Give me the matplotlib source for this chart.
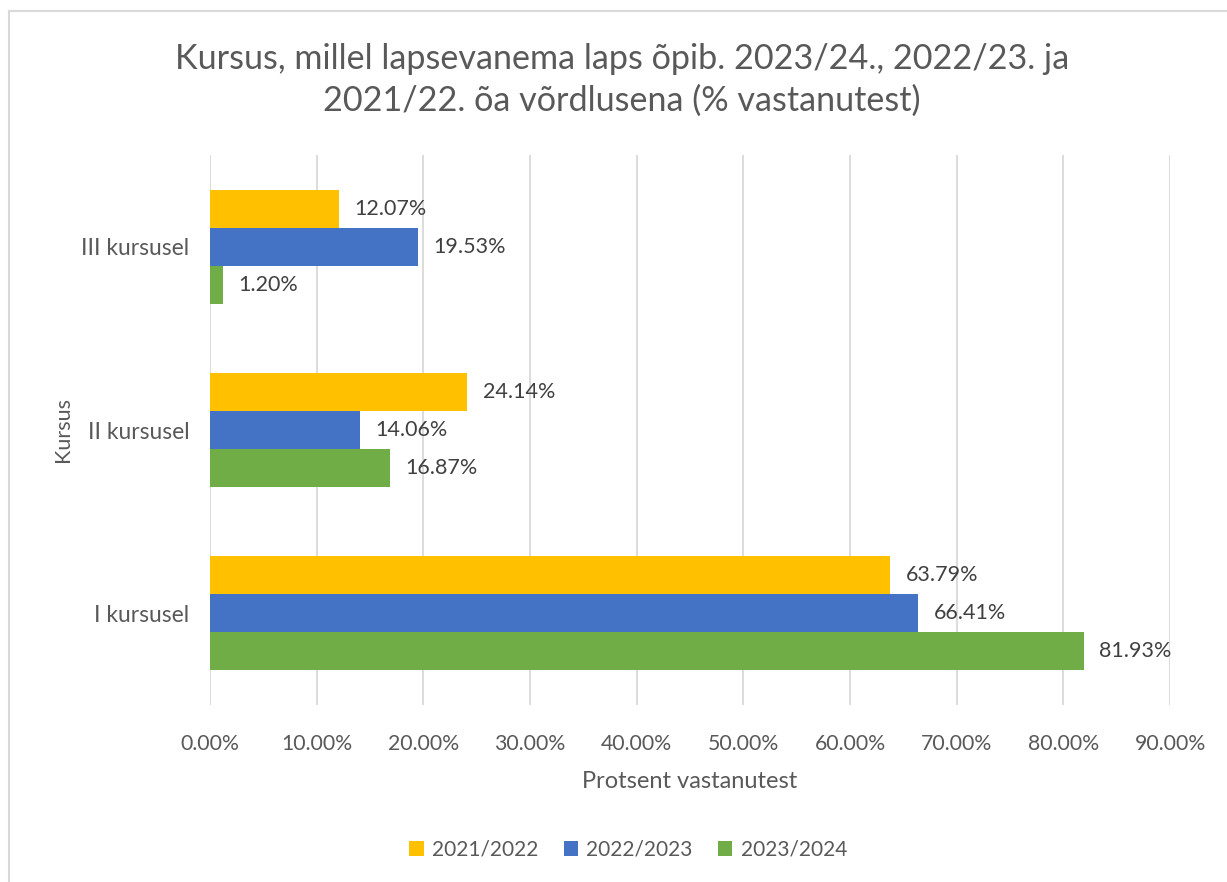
import numpy as np
import matplotlib
matplotlib.use("Agg")
import matplotlib.pyplot as plt
from matplotlib.lines import Line2D
from matplotlib.ticker import FuncFormatter

# Data
categories = ["I kursusel", "II kursusel", "III kursusel"]
years = ["2021/2022", "2022/2023", "2023/2024"]
v2021 = [63.79, 24.14, 12.07]
v2022 = [66.41, 14.06, 19.53]
v2023 = [81.93, 16.87, 1.20]
colors = ["#FFC000", "#4472C4", "#70AD47"]
xticks = np.arange(0, 100, 10)

plt.rcParams["font.family"] = ["Lato", "DejaVu Sans"]
TXT = "#595959"

fig = plt.figure(figsize=(12.27, 8.82), dpi=100)
ax = fig.add_axes([210 / 1227, 1 - 705 / 882, 960 / 1227, 550 / 882])

y = np.arange(len(categories))
h = 0.207
series = [v2021, v2022, v2023]
offsets = [h, 0, -h]
for vals, off, col, lab in zip(series, offsets, colors, years):
    bars = ax.barh(y + off, vals, height=h, color=col, label=lab, zorder=3)
    for b, v in zip(bars, vals):
        ax.annotate(f"{v:.2f}%", (b.get_width(), b.get_y() + b.get_height() / 2),
                    xytext=(11, 0), textcoords="offset points",
                    va="center", ha="left", fontsize=15.5, color="#404040")

ax.set_xlim(0, 90)
ax.set_ylim(-0.5, 2.5)
ax.set_xticks(xticks)
ax.xaxis.set_major_formatter(FuncFormatter(lambda v, p: f"{v:.2f}%"))
ax.set_yticks(y)
ax.set_yticklabels(categories)
ax.tick_params(axis="both", length=0, labelcolor=TXT)
ax.tick_params(axis="x", labelsize=15.3, pad=21)
ax.tick_params(axis="y", labelsize=16.5, pad=15)
ax.grid(axis="x", color="#D9D9D9", linewidth=1.3, zorder=0)
for s in ax.spines.values():
    s.set_visible(False)

ax.set_xlabel("Protsent vastanutest", fontsize=17, color=TXT, labelpad=12)
ax.set_ylabel("Kursus", fontsize=15.5, color=TXT, labelpad=6)

fig.text(0.507, 1 - 80 / 882,
         "Kursus, millel lapsevanema laps õpib. 2023/24., 2022/23. ja\n2021/22. õa võrdlusena (% vastanutest)",
         ha="center", va="center", fontsize=24.6, color=TXT, linespacing=1.38)

handles, labels = ax.get_legend_handles_labels()
fig.legend(handles, labels, loc="center", bbox_to_anchor=(0.512, 1 - 850 / 882),
           ncol=3, frameon=False, fontsize=15, labelcolor=TXT,
           handlelength=0.7, handleheight=0.7, handletextpad=0.4, columnspacing=1.2)

# chart border (top and left visible in the crop)
fig.add_artist(Line2D([9 / 1227, 9 / 1227], [0, 1 - 11 / 882], transform=fig.transFigure,
                      color="#D9D9D9", linewidth=1.5))
fig.add_artist(Line2D([9 / 1227, 1], [1 - 11 / 882, 1 - 11 / 882], transform=fig.transFigure,
                      color="#D9D9D9", linewidth=1.5))

fig.savefig("out.png", dpi=100)
